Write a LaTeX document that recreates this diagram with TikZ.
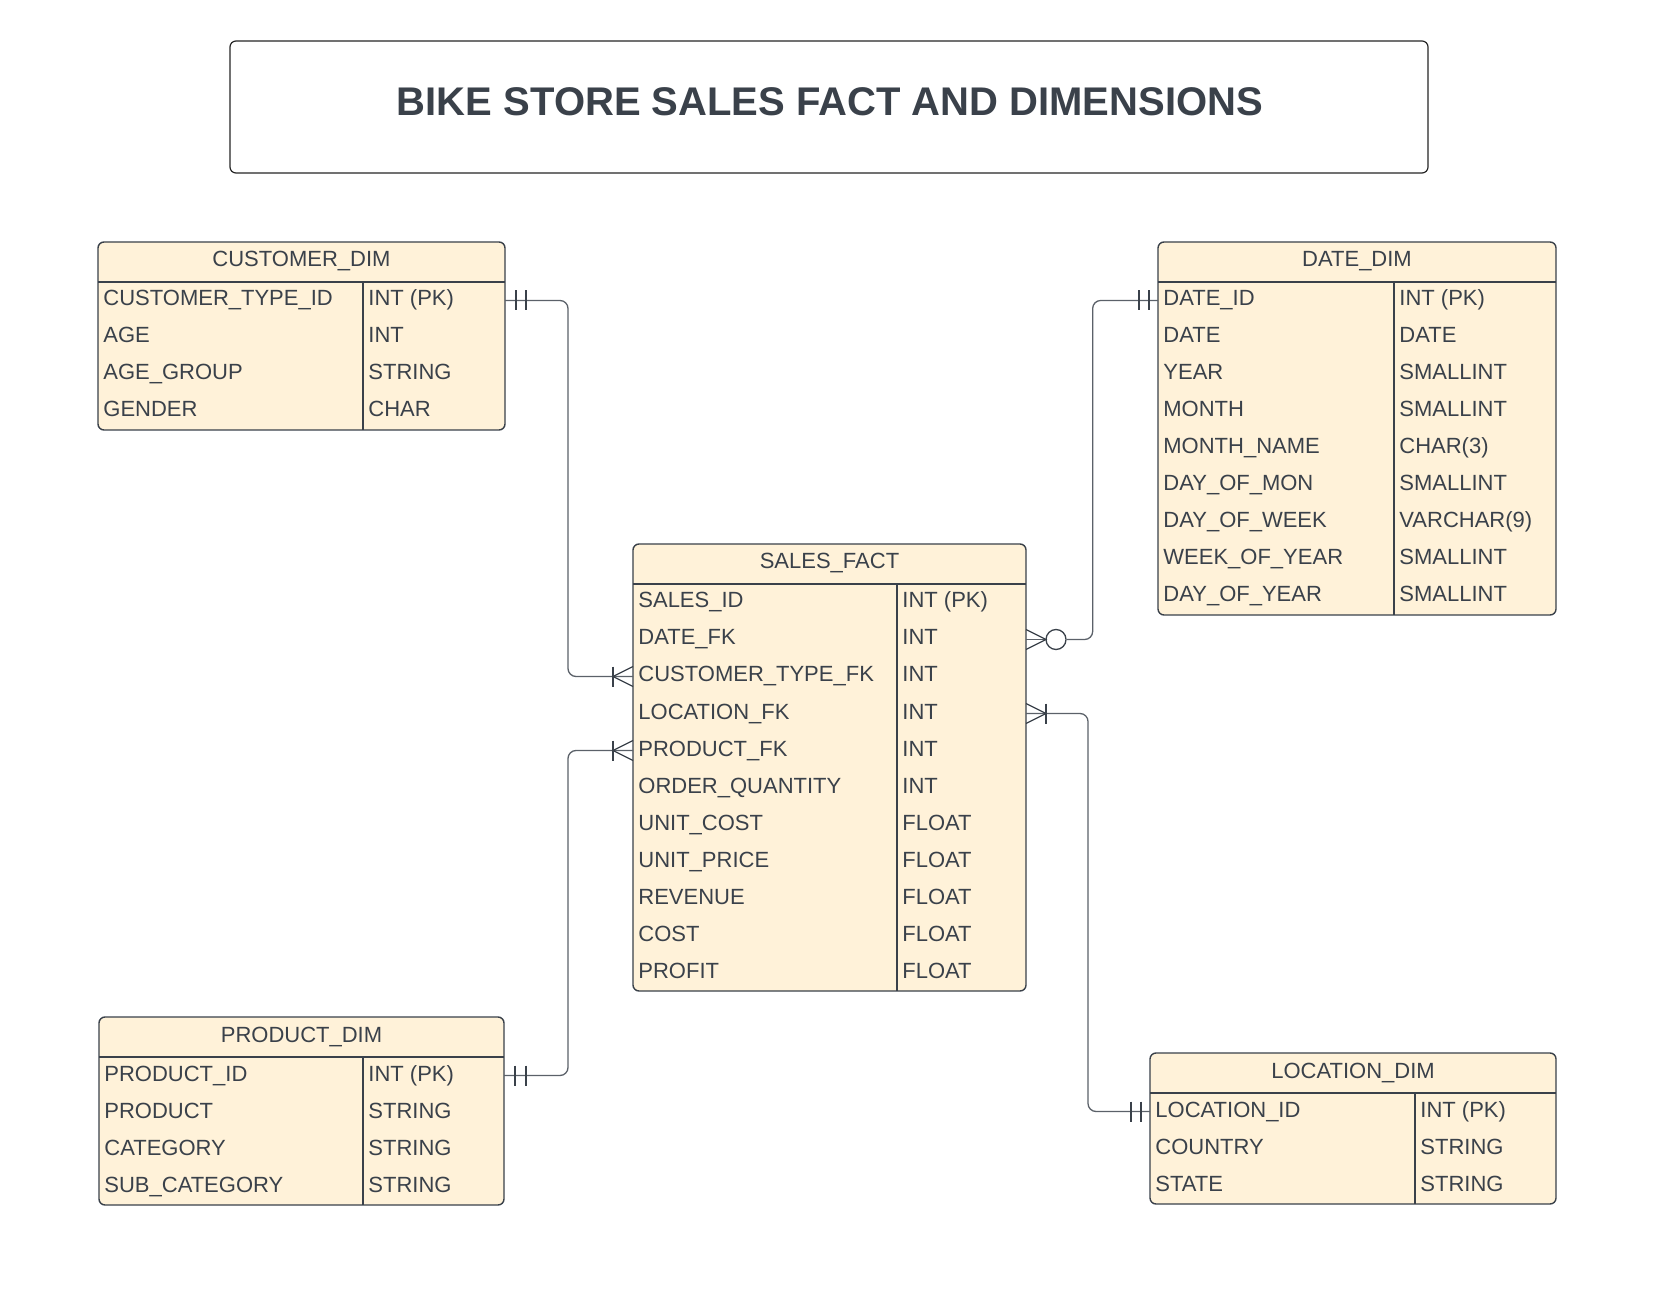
\documentclass[tikz,border=0pt]{standalone}
\usepackage{fontspec}
\setmainfont{Liberation Sans}
\usetikzlibrary{calc}
\definecolor{fillc}{HTML}{FFF2D9}
\definecolor{linec}{HTML}{3A414A}
\definecolor{connc}{HTML}{5B6169}
\newcommand\ertable[8]{%
  \draw[tbl] (#2,#3) rectangle (#4,{#3+40+37*#6});
  \draw[sep] (#2,{#3+40}) -- (#4,{#3+40});
  \draw[sep] (#5,{#3+40}) -- (#5,{#3+40+37*#6});
  \node[hdr] (#1-h) at ({(#2+#4)/2},{#3+25}) {#7};
  \foreach \fn/\ft [count=\i] in {#8} {
    \node[fld] (#1-n\i) at ({#2+5},{#3+40+37*\i-13}) {\fn};
    \node[fld] (#1-t\i) at ({#5+5},{#3+40+37*\i-13}) {\ft};
    \coordinate (#1-l\i) at (#2,{#3+40+37*\i-18.5});
    \coordinate (#1-r\i) at (#4,{#3+40+37*\i-18.5});
  }}
\newcommand\crow[2]{\draw[ermark] ($(#1)+(0,-10)$) -- ($(#1)+(#2*20,0)$) -- ($(#1)+(0,10)$);}
\newcommand\barat[3]{\draw[ermark] ($(#1)+(#2*#3,-10)$) -- ($(#1)+(#2*#3,10)$);}
\begin{document}
\begin{tikzpicture}[x=0.5pt,y=-0.5pt,
  tbl/.style={draw=linec,fill=fillc,line width=0.7pt,rounded corners=3pt},
  sep/.style={draw=linec,line width=0.7pt},
  fld/.style={anchor=base west,inner sep=0pt,text=linec,font=\fontsize{11}{13}\selectfont},
  hdr/.style={anchor=base,inner sep=0pt,text=linec,font=\fontsize{11}{13}\selectfont},
  conn/.style={draw=connc,line width=0.65pt,rounded corners=4pt},
  ermark/.style={draw=linec,line width=0.65pt}]
\useasboundingbox[fill=white] (0,0) rectangle (1653,1293);

% title
\draw[draw=black!85,line width=0.6pt,rounded corners=3pt] (230,41) rectangle (1428,173);
\node[anchor=base,inner sep=0pt,text=linec,font=\fontsize{20}{22}\selectfont\bfseries] (title) at (830,116) {BIKE STORE SALES FACT AND DIMENSIONS};

% tables
\ertable{cust}{98}{242}{505}{363}{4}{CUSTOMER\_DIM}{CUSTOMER\_TYPE\_ID/INT (PK), AGE/INT, AGE\_GROUP/STRING, GENDER/CHAR}
\ertable{sf}{633}{544}{1026}{897}{11}{SALES\_FACT}{SALES\_ID/INT (PK), DATE\_FK/INT, CUSTOMER\_TYPE\_FK/INT, LOCATION\_FK/INT, PRODUCT\_FK/INT, ORDER\_QUANTITY/INT, UNIT\_COST/FLOAT, UNIT\_PRICE/FLOAT, REVENUE/FLOAT, COST/FLOAT, PROFIT/FLOAT}
\ertable{date}{1158}{242}{1556}{1394}{9}{DATE\_DIM}{DATE\_ID/INT (PK), DATE/DATE, YEAR/SMALLINT, MONTH/SMALLINT, MONTH\_NAME/CHAR(3), DAY\_OF\_MON/SMALLINT, DAY\_OF\_WEEK/VARCHAR(9), WEEK\_OF\_YEAR/SMALLINT, DAY\_OF\_YEAR/SMALLINT}
\ertable{prod}{99}{1017}{504}{363}{4}{PRODUCT\_DIM}{PRODUCT\_ID/INT (PK), PRODUCT/STRING, CATEGORY/STRING, SUB\_CATEGORY/STRING}
\ertable{loc}{1150}{1053}{1556}{1415}{3}{LOCATION\_DIM}{LOCATION\_ID/INT (PK), COUNTRY/STRING, STATE/STRING}

% customer -> sales
\draw[conn] (cust-r1) -- ++(63,0) |- (sf-l3);
\barat{cust-r1}{1}{11}\barat{cust-r1}{1}{21}
\crow{sf-l3}{-1}\barat{sf-l3}{-1}{20}

% product -> sales
\draw[conn] (prod-r1) -- ++(64,0) |- (sf-l5);
\barat{prod-r1}{1}{11}\barat{prod-r1}{1}{22}
\crow{sf-l5}{-1}\barat{sf-l5}{-1}{20}

% sales -> date (zero or many)
\draw[conn] (sf-r2) -- ++(20,0);
\node[circle,draw=linec,line width=0.65pt,fill=white,minimum size=10pt,inner sep=0pt] (zc) at ($(sf-r2)+(30,0)$) {};
\draw[conn] (zc.east) -- ++(26,0) |- (date-l1);
\crow{sf-r2}{1}
\barat{date-l1}{-1}{9}\barat{date-l1}{-1}{19}

% sales -> location
\draw[conn] (sf-r4) -- ++(62,0) |- (loc-l1);
\crow{sf-r4}{1}\barat{sf-r4}{1}{20}
\barat{loc-l1}{-1}{9}\barat{loc-l1}{-1}{19}
\end{tikzpicture}
\end{document}
